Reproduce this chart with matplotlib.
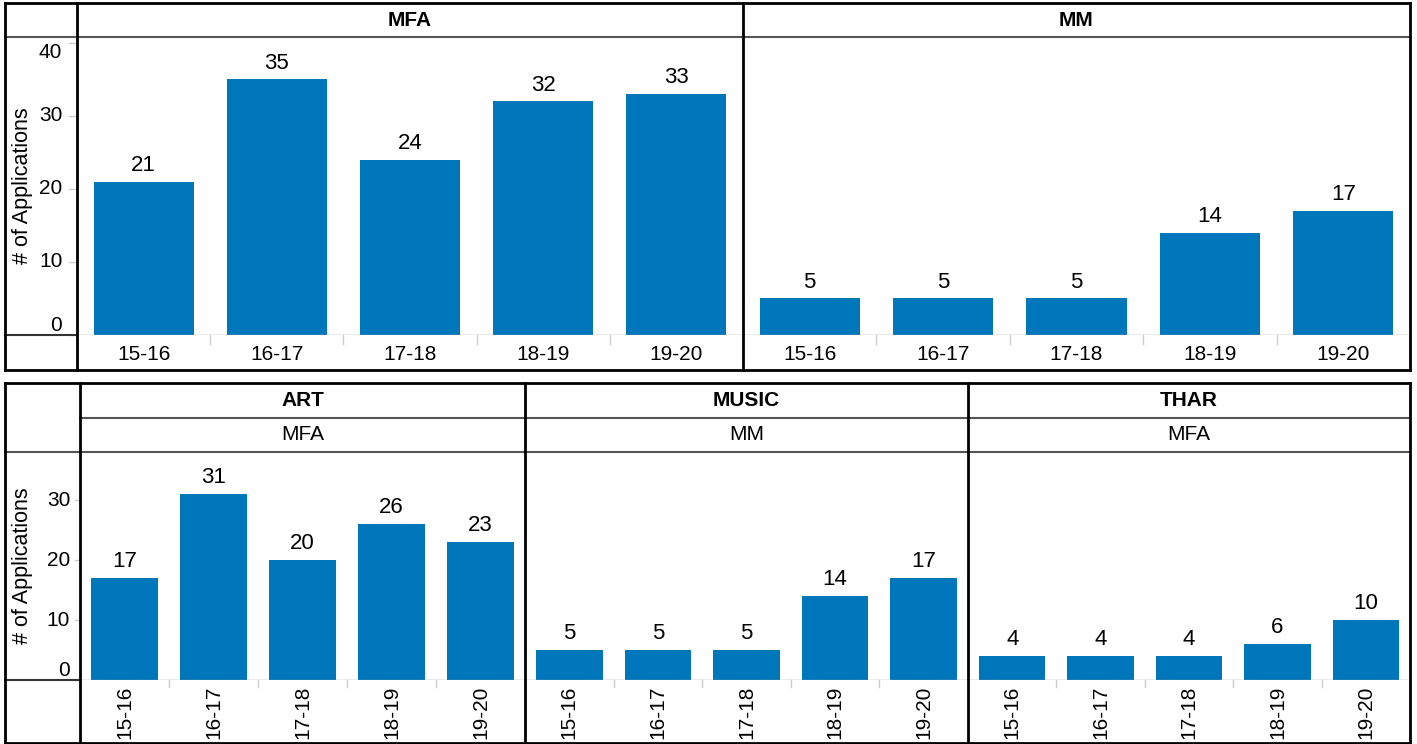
import matplotlib.pyplot as plt
from matplotlib.lines import Line2D
import numpy as np

plt.rcParams['font.family'] = ['Liberation Sans', 'DejaVu Sans']

years = ['15-16', '16-17', '17-18', '18-19', '19-20']

# top chart: by degree
mfa = [21, 35, 24, 32, 33]
mm = [5, 5, 5, 14, 17]

# bottom chart: by department / degree
art = [17, 31, 20, 26, 23]
music = [5, 5, 5, 14, 17]
thar = [4, 4, 4, 6, 10]

W, H = 1417, 744
BLUE = '#0077bb'
FS = 15
fig = plt.figure(figsize=(W / 100, H / 100), dpi=100)


def fx(x):
    return x / W


def fy(y):
    return 1 - y / H


def line(x0, y0, x1, y1, color='black', lw=2.0):
    fig.add_artist(Line2D([fx(x0), fx(x1)], [fy(y0), fy(y1)], color=color, lw=lw,
                          transform=fig.transFigure, solid_capstyle='projecting'))


def text(x, y, s, **kw):
    fig.text(fx(x), fy(y), s, ha='center', va='center', **kw)


def panel(x0, x1, ytop, ybot, values, ymax, yticks=None, rotate=False):
    ax = fig.add_axes([fx(x0), fy(ybot), fx(x1) - fx(x0), fy(ytop) - fy(ybot)])
    pos = np.arange(len(values))
    ax.bar(pos, values, width=0.75, color=BLUE, zorder=2)
    for p, v in zip(pos, values):
        ax.annotate(str(v), (p, v), xytext=(0, 4), textcoords='offset points',
                    ha='center', va='bottom', fontsize=16)
    ax.set_xlim(-0.5, len(values) - 0.5)
    ax.set_ylim(0, ymax)
    for s in ax.spines.values():
        s.set_visible(False)
    ax.set_xticks([])
    ax.set_yticks([])
    # x labels and light separator ticks
    for p, lab in zip(pos, years):
        if rotate:
            ax.text(p, -0.025, lab, transform=ax.get_xaxis_transform(), rotation=90,
                    ha='center', va='top', fontsize=FS)
        else:
            ax.text(p, -0.065, lab, transform=ax.get_xaxis_transform(),
                    ha='center', va='center', fontsize=FS)
    for p in pos[1:]:
        ax.plot([p - 0.5, p - 0.5], [0, -0.03], color='#cccccc', lw=1,
                transform=ax.get_xaxis_transform(), clip_on=False)
    ax.axhline(0, color='#999999', lw=1, zorder=3)
    if yticks is not None:
        n = len(yticks)
        for i, t in enumerate(yticks):
            ax.plot([-0.012, 0], [t, t], color='#cccccc', lw=1,
                    transform=ax.get_yaxis_transform(), clip_on=False)
            va = 'center'
            if i == 0:
                va = 'bottom'
            elif i == n - 1 and t > ymax - 2:
                va = 'top'
            ax.text(-0.022, t, str(t), transform=ax.get_yaxis_transform(),
                    ha='right', va=va, fontsize=FS)
    return ax


# ---------------- top chart ----------------
top_l, top_r, top_t, top_h, top_p, top_b = 5, 1410, 3, 37, 335, 370
div1 = 77
div2 = 743
panel(div1, div2, top_h, top_p, mfa, 40.8, yticks=[0, 10, 20, 30, 40])
panel(div2, top_r, top_h, top_p, mm, 40.8)

line(top_l, top_h, top_r, top_h, color='#555555', lw=1.5)
line(top_l, top_p, div1, top_p, color='#333333', lw=1.5)
line(top_l, top_t, top_r, top_t)
line(top_l, top_b, top_r, top_b)
for x in [top_l, div1, div2, top_r]:
    line(x, top_t, x, top_b)
text((div1 + div2) / 2, (top_t + top_h) / 2, 'MFA', fontsize=FS, fontweight='bold')
text((div2 + top_r) / 2, (top_t + top_h) / 2, 'MM', fontsize=FS, fontweight='bold')
text(23, (top_h + top_p) / 2, '# of Applications', fontsize=15.5, rotation=90)

# ---------------- bottom chart ----------------
bl, br, bt, bh1, bh2, bp, bb = 5, 1410, 383, 418, 452, 680, 743
cols = [80, 525, 968, br]
depts = ['ART', 'MUSIC', 'THAR']
degrees = ['MFA', 'MM', 'MFA']
series = [art, music, thar]
for i, vals in enumerate(series):
    panel(cols[i], cols[i + 1], bh2, bp, vals, 38,
          yticks=[0, 10, 20, 30] if i == 0 else None, rotate=True)
    text((cols[i] + cols[i + 1]) / 2, (bt + bh1) / 2, depts[i], fontsize=FS, fontweight='bold')
    text((cols[i] + cols[i + 1]) / 2, (bh1 + bh2) / 2, degrees[i], fontsize=FS)

line(cols[0], bh1, br, bh1, color='#555555', lw=1.5)
line(bl, bh2, br, bh2, color='#555555', lw=1.5)
line(bl, bp, cols[0], bp, color='#333333', lw=1.5)
line(bl, bt, br, bt)
line(bl, bb, br, bb)
for x in [bl] + cols:
    line(x, bt, x, bb)
text(23, (bh2 + bp) / 2, '# of Applications', fontsize=15.5, rotation=90)

fig.savefig('out.png', dpi=100)
